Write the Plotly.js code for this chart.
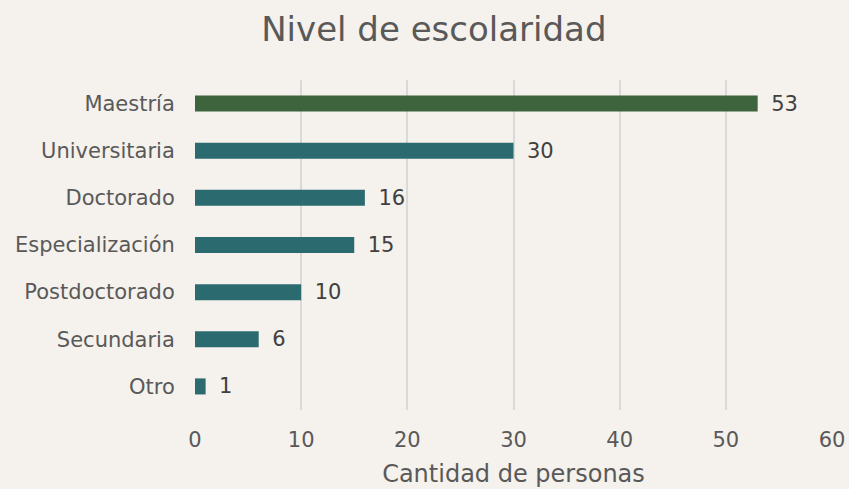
<!DOCTYPE html>
<html><head><meta charset="utf-8">
<script src="https://cdn.plot.ly/plotly-3.0.1.min.js"></script>
<style>html,body{margin:0;padding:0;background:#f5f1ec;}</style>
</head><body><div id="chart" style="width:849px;height:489px;"></div>
<script>
var categories = ["Otro","Secundaria","Postdoctorado","Especialización","Doctorado","Universitaria","Maestría"];
var values = [1,6,10,15,16,30,53];
var barColors = ["#2b6b70","#2b6b70","#2b6b70","#2b6b70","#2b6b70","#2b6b70","#3e643d"];
var xTicks = [0,10,20,30,40,50,60];
var FONT = "DejaVu Sans, Verdana, sans-serif";

var trace = {
  type:"bar", orientation:"h",
  x: values, y: categories,
  marker:{color: barColors},
  width: 0.34,
  text: values.map(function(v){return "\u2002" + v;}), textposition:"outside",
  constraintext:"none",
  textfont:{family:FONT, size:21, color:"#404040"},
  cliponaxis:false, hoverinfo:"none"
};
var layout = {
  width:849, height:489,
  paper_bgcolor:"#f5f1ec", plot_bgcolor:"#f5f1ec",
  margin:{l:195,r:17,t:80,b:79},
  title:{text:"Nivel de escolaridad", font:{family:FONT, size:34, color:"#595959"}, x:0.511, xanchor:"center", y:0.94, yanchor:"middle"},
  xaxis:{range:[0,60], tickvals:xTicks, showgrid:true, gridcolor:"#d9d9d9", gridwidth:2,
    zeroline:false, showline:false, ticks:"outside", ticklen:11, tickcolor:"rgba(0,0,0,0)",
    tickfont:{family:FONT, size:21, color:"#595959"},
    title:{text:"Cantidad de personas", font:{family:FONT, size:24, color:"#595959"}, standoff:13}},
  yaxis:{tickfont:{family:FONT, size:21, color:"#595959"}, ticks:"outside", ticklen:15, tickcolor:"rgba(0,0,0,0)", showgrid:false, automargin:false},
  showlegend:false
};
Plotly.newPlot("chart",[trace],layout,{displayModeBar:false, staticPlot:true});
</script></body></html>
